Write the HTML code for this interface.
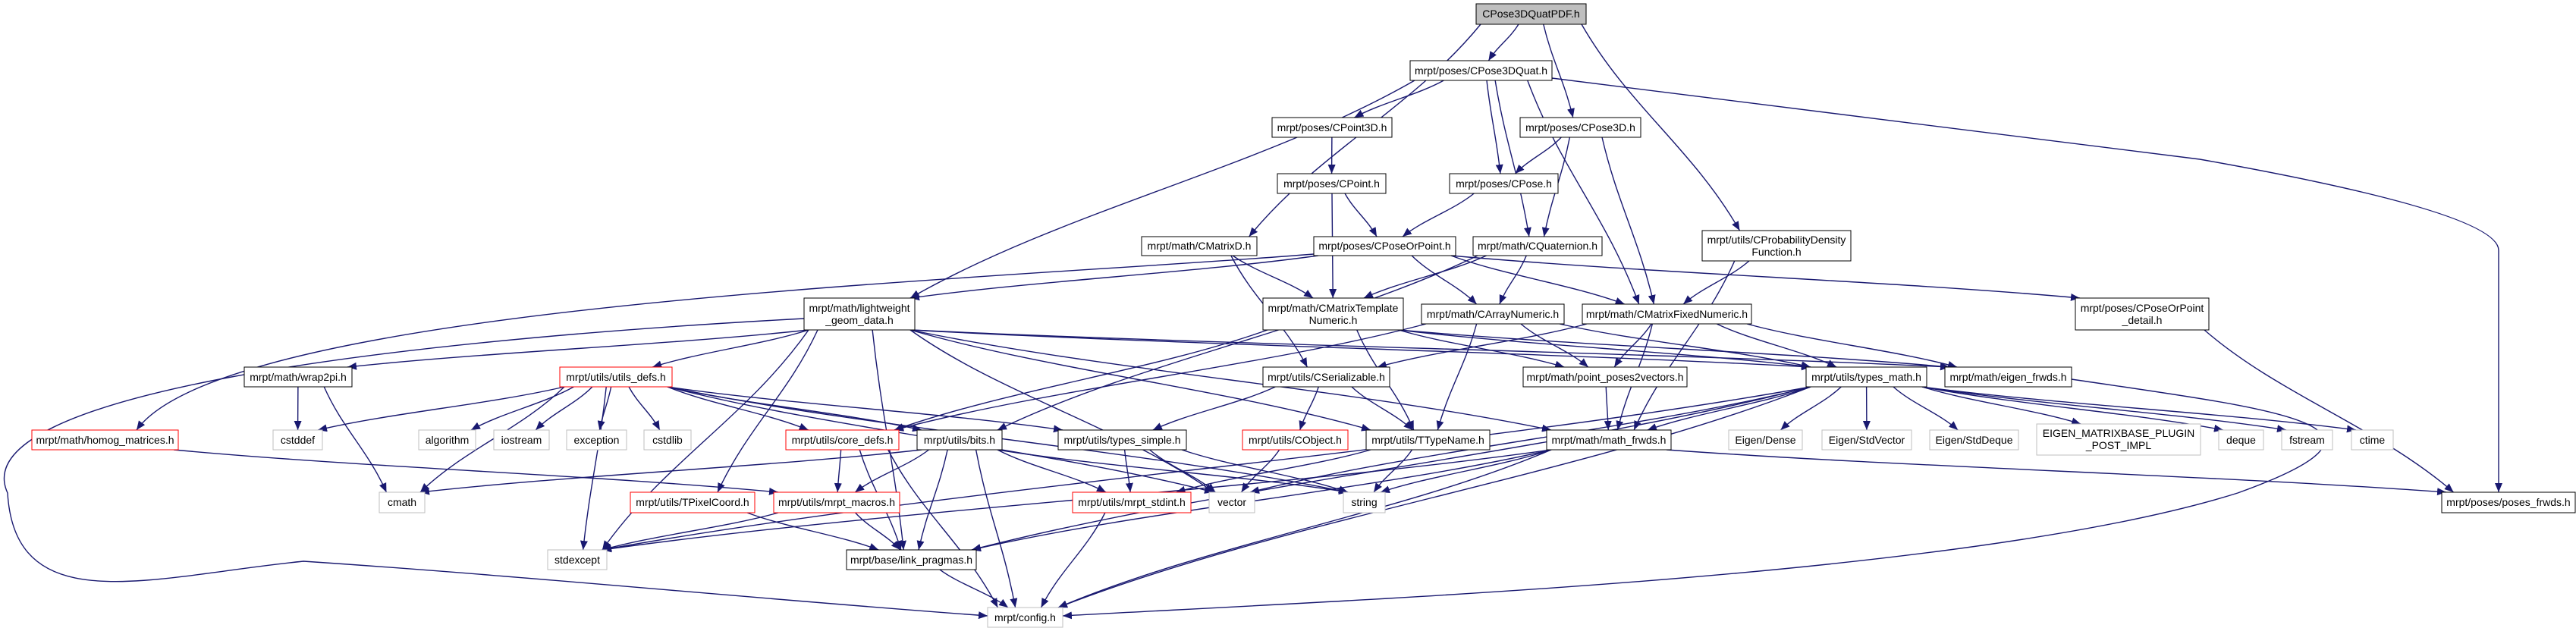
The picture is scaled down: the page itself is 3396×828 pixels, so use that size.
<!DOCTYPE html>
<html><head><meta charset="utf-8"><style>
html,body{margin:0;padding:0;background:#fff;width:3396px;height:828px;overflow:hidden}
svg{display:block}
text{font-family:"Liberation Sans",sans-serif;font-size:14px;fill:#000}
</style></head><body>
<svg id="g" width="3396" height="828" viewBox="0 0 3396 828" xmlns="http://www.w3.org/2000/svg">
<defs><marker id="a" viewBox="0 0 12 10" refX="12" refY="5" markerWidth="12" markerHeight="10" orient="auto" markerUnits="userSpaceOnUse"><path d="M0,0 L12,5 L0,10 z" fill="#191970"/></marker></defs>
<g id="edges" fill="none" stroke="#191970" stroke-width="1.4"></g>
<g id="nodes">
<rect x="1946" y="5" width="145" height="27" fill="#bfbfbf" stroke="#000"/><text x="2018.5" y="23" text-anchor="middle">CPose3DQuatPDF.h</text>
<rect x="1859" y="80" width="187" height="26" fill="#fff" stroke="#000"/><text x="1952.5" y="98" text-anchor="middle">mrpt/poses/CPose3DQuat.h</text>
<rect x="1677" y="155" width="158" height="26" fill="#fff" stroke="#000"/><text x="1756" y="173" text-anchor="middle">mrpt/poses/CPoint3D.h</text>
<rect x="2004" y="155" width="159" height="26" fill="#fff" stroke="#000"/><text x="2083.5" y="173" text-anchor="middle">mrpt/poses/CPose3D.h</text>
<rect x="1684" y="229" width="143" height="26" fill="#fff" stroke="#000"/><text x="1755.5" y="247" text-anchor="middle">mrpt/poses/CPoint.h</text>
<rect x="1911" y="229" width="143" height="26" fill="#fff" stroke="#000"/><text x="1982.5" y="247" text-anchor="middle">mrpt/poses/CPose.h</text>
<rect x="1505" y="312" width="152" height="25" fill="#fff" stroke="#000"/><text x="1581" y="329" text-anchor="middle">mrpt/math/CMatrixD.h</text>
<rect x="1732" y="312" width="187" height="25" fill="#fff" stroke="#000"/><text x="1825.5" y="329" text-anchor="middle">mrpt/poses/CPoseOrPoint.h</text>
<rect x="1942" y="312" width="170" height="25" fill="#fff" stroke="#000"/><text x="2027" y="329" text-anchor="middle">mrpt/math/CQuaternion.h</text>
<rect x="2244" y="304" width="196" height="40" fill="#fff" stroke="#000"/><text x="2342" y="321" text-anchor="middle">mrpt/utils/CProbabilityDensity</text><text x="2342" y="337" text-anchor="middle">Function.h</text>
<rect x="1060" y="393" width="146" height="42" fill="#fff" stroke="#000"/><text x="1133" y="411" text-anchor="middle">mrpt/math/lightweight</text><text x="1133" y="427" text-anchor="middle">_geom_data.h</text>
<rect x="1665" y="393" width="185" height="42" fill="#fff" stroke="#000"/><text x="1757.5" y="411" text-anchor="middle">mrpt/math/CMatrixTemplate</text><text x="1757.5" y="427" text-anchor="middle">Numeric.h</text>
<rect x="1874" y="401" width="188" height="26" fill="#fff" stroke="#000"/><text x="1968" y="419" text-anchor="middle">mrpt/math/CArrayNumeric.h</text>
<rect x="2086" y="401" width="223" height="26" fill="#fff" stroke="#000"/><text x="2197.5" y="419" text-anchor="middle">mrpt/math/CMatrixFixedNumeric.h</text>
<rect x="2736" y="393" width="176" height="42" fill="#fff" stroke="#000"/><text x="2824" y="411" text-anchor="middle">mrpt/poses/CPoseOrPoint</text><text x="2824" y="427" text-anchor="middle">_detail.h</text>
<rect x="322" y="484" width="142" height="26" fill="#fff" stroke="#000"/><text x="393" y="502" text-anchor="middle">mrpt/math/wrap2pi.h</text>
<rect x="738" y="484" width="148" height="26" fill="#fff" stroke="#f00"/><text x="812" y="502" text-anchor="middle">mrpt/utils/utils_defs.h</text>
<rect x="1665" y="484" width="167" height="26" fill="#fff" stroke="#000"/><text x="1748.5" y="502" text-anchor="middle">mrpt/utils/CSerializable.h</text>
<rect x="2008" y="484" width="216" height="26" fill="#fff" stroke="#000"/><text x="2116" y="502" text-anchor="middle">mrpt/math/point_poses2vectors.h</text>
<rect x="2381" y="484" width="159" height="26" fill="#fff" stroke="#000"/><text x="2460.5" y="502" text-anchor="middle">mrpt/utils/types_math.h</text>
<rect x="2564" y="484" width="167" height="26" fill="#fff" stroke="#000"/><text x="2647.5" y="502" text-anchor="middle">mrpt/math/eigen_frwds.h</text>
<rect x="42" y="567" width="193" height="26" fill="#fff" stroke="#f00"/><text x="138.5" y="585" text-anchor="middle">mrpt/math/homog_matrices.h</text>
<rect x="360" y="567" width="65" height="26" fill="#fff" stroke="#bfbfbf"/><text x="392.5" y="585" text-anchor="middle">cstddef</text>
<rect x="552" y="567" width="75" height="26" fill="#fff" stroke="#bfbfbf"/><text x="589.5" y="585" text-anchor="middle">algorithm</text>
<rect x="651" y="567" width="73" height="26" fill="#fff" stroke="#bfbfbf"/><text x="687.5" y="585" text-anchor="middle">iostream</text>
<rect x="747" y="567" width="79" height="26" fill="#fff" stroke="#bfbfbf"/><text x="786.5" y="585" text-anchor="middle">exception</text>
<rect x="849" y="567" width="62" height="26" fill="#fff" stroke="#bfbfbf"/><text x="880" y="585" text-anchor="middle">cstdlib</text>
<rect x="1036" y="567" width="149" height="26" fill="#fff" stroke="#f00"/><text x="1110.5" y="585" text-anchor="middle">mrpt/utils/core_defs.h</text>
<rect x="1209" y="567" width="112" height="26" fill="#fff" stroke="#000"/><text x="1265" y="585" text-anchor="middle">mrpt/utils/bits.h</text>
<rect x="1395" y="567" width="169" height="26" fill="#fff" stroke="#000"/><text x="1479.5" y="585" text-anchor="middle">mrpt/utils/types_simple.h</text>
<rect x="1638" y="567" width="139" height="26" fill="#fff" stroke="#f00"/><text x="1707.5" y="585" text-anchor="middle">mrpt/utils/CObject.h</text>
<rect x="1801" y="567" width="163" height="26" fill="#fff" stroke="#000"/><text x="1882.5" y="585" text-anchor="middle">mrpt/utils/TTypeName.h</text>
<rect x="2039" y="567" width="164" height="26" fill="#fff" stroke="#000"/><text x="2121" y="585" text-anchor="middle">mrpt/math/math_frwds.h</text>
<rect x="2279" y="567" width="97" height="26" fill="#fff" stroke="#bfbfbf"/><text x="2327.5" y="585" text-anchor="middle">Eigen/Dense</text>
<rect x="2402" y="567" width="118" height="26" fill="#fff" stroke="#bfbfbf"/><text x="2461" y="585" text-anchor="middle">Eigen/StdVector</text>
<rect x="2544" y="567" width="117" height="26" fill="#fff" stroke="#bfbfbf"/><text x="2602.5" y="585" text-anchor="middle">Eigen/StdDeque</text>
<rect x="2685" y="559" width="216" height="41" fill="#fff" stroke="#bfbfbf"/><text x="2793" y="576" text-anchor="middle">EIGEN_MATRIXBASE_PLUGIN</text><text x="2793" y="592" text-anchor="middle">_POST_IMPL</text>
<rect x="2925" y="567" width="59" height="26" fill="#fff" stroke="#bfbfbf"/><text x="2954.5" y="585" text-anchor="middle">deque</text>
<rect x="3008" y="567" width="67" height="26" fill="#fff" stroke="#bfbfbf"/><text x="3041.5" y="585" text-anchor="middle">fstream</text>
<rect x="3100" y="567" width="55" height="26" fill="#fff" stroke="#bfbfbf"/><text x="3127.5" y="585" text-anchor="middle">ctime</text>
<rect x="500" y="649" width="60" height="27" fill="#fff" stroke="#bfbfbf"/><text x="530" y="667" text-anchor="middle">cmath</text>
<rect x="831" y="649" width="164" height="27" fill="#fff" stroke="#f00"/><text x="913" y="667" text-anchor="middle">mrpt/utils/TPixelCoord.h</text>
<rect x="1020" y="649" width="166" height="27" fill="#fff" stroke="#f00"/><text x="1103" y="667" text-anchor="middle">mrpt/utils/mrpt_macros.h</text>
<rect x="1414" y="649" width="156" height="27" fill="#fff" stroke="#f00"/><text x="1492" y="667" text-anchor="middle">mrpt/utils/mrpt_stdint.h</text>
<rect x="1594" y="649" width="60" height="27" fill="#fff" stroke="#bfbfbf"/><text x="1624" y="667" text-anchor="middle">vector</text>
<rect x="1771" y="649" width="55" height="27" fill="#fff" stroke="#bfbfbf"/><text x="1798.5" y="667" text-anchor="middle">string</text>
<rect x="3219" y="649" width="176" height="27" fill="#fff" stroke="#000"/><text x="3307" y="667" text-anchor="middle">mrpt/poses/poses_frwds.h</text>
<rect x="722" y="725" width="78" height="26" fill="#fff" stroke="#bfbfbf"/><text x="761" y="743" text-anchor="middle">stdexcept</text>
<rect x="1116" y="725" width="171" height="26" fill="#fff" stroke="#000"/><text x="1201.5" y="743" text-anchor="middle">mrpt/base/link_pragmas.h</text>
<rect x="1302" y="801" width="99" height="26" fill="#fff" stroke="#bfbfbf"/><text x="1351.5" y="819" text-anchor="middle">mrpt/config.h</text>
</g>
</svg>
<script>
var N={
root:[1946,5,2091,32],q:[1859,80,2046,106],p3:[1677,155,1835,181],c3:[2004,155,2163,181],
pt:[1684,229,1827,255],ps:[1911,229,2054,255],md:[1505,312,1657,337],po:[1732,312,1919,337],
qu:[1942,312,2112,337],pdf:[2244,304,2440,344],lw:[1060,393,1206,435],mt:[1665,393,1850,435],
an:[1874,401,2062,427],mf:[2086,401,2309,427],pod:[2736,393,2912,435],w2:[322,484,464,510],
ud:[738,484,886,510],cs:[1665,484,1832,510],pp:[2008,484,2224,510],tm:[2381,484,2540,510],
ef:[2564,484,2731,510],hm:[42,567,235,593],cd:[360,567,425,593],al:[552,567,627,593],
io:[651,567,724,593],ex:[747,567,826,593],cl:[849,567,911,593],co:[1036,567,1185,593],
bi:[1209,567,1321,593],ts:[1395,567,1564,593],ob:[1638,567,1777,593],tt:[1801,567,1964,593],
mfw:[2039,567,2203,593],ed:[2279,567,2376,593],esv:[2402,567,2520,593],esd:[2544,567,2661,593],
emp:[2685,559,2901,600],dq:[2925,567,2984,593],fs:[3008,567,3075,593],ct:[3100,567,3155,593],
cm:[500,649,560,676],px:[831,649,995,676],mm:[1020,649,1186,676],si:[1414,649,1570,676],
ve:[1594,649,1654,676],st:[1771,649,1826,676],pf:[3219,649,3395,676],se:[722,725,800,751],
lp:[1116,725,1287,751],cf:[1302,801,1401,827]};
var E="root q,root c3,root pdf,root md,q lw,q p3,q qu,q ps,q mf,c3 ps,c3 qu,c3 mf,p3 pt,pt po,pt mt,ps po,md mt,md cs,po lw,po an,po mf,po pod,qu mt,qu an,qu bi,pdf mf,pdf mfw,lw w2,lw ud,lw px,lw lp,lw se,lw mfw,lw tm,lw ve,lw tt,lw ef,mt co,mt tt,mt pp,mt tm,mt ef,an co,an tt,an pp,an tm,mf cs,mf pp,mf mfw,mf tm,mf ef,cs ts,cs ob,cs tt,pp mfw,ud cd,ud cm,ud se,ud al,ud io,ud ex,ud cl,ud co,ud bi,ud ts,ud ve,ud st,w2 cd,w2 cm,hm mm,co mm,co lp,co cf,bi cm,bi mm,bi lp,bi cf,bi si,bi st,ts si,ts ve,ts st,ob ve,tt si,tt st,mfw st,mfw lp,mfw se,mfw cf,mfw pf,tm ed,tm esv,tm esd,tm emp,tm dq,tm fs,tm ct,tm mfw,tm ve,tm se,tm lp,tm cf,px lp,mm se,mm lp,si cf,lp cf,pod pf".split(",");
var g=document.getElementById("edges"),s="";
function P(d){s+='<path d="'+d+'" marker-end="url(#a)"/>';}
E.forEach(function(e){var k=e.split(" "),a=N[k[0]],b=N[k[1]];
 var acx=(a[0]+a[2])/2,bcx=(b[0]+b[2])/2;
 if(b[1]>a[3]+5){
  var sx=acx+(bcx-acx)*0.25;sx=Math.max(a[0]+6,Math.min(a[2]-6,sx));
  var tx=bcx+(acx-bcx)*0.15;tx=Math.max(b[0]+6,Math.min(b[2]-6,tx));
  var sy=a[3],ty=b[1],m=(ty-sy)*0.4;
  var dx=(tx-sx)*0.3;
  P("M"+sx+","+sy+" C"+(sx+dx)+","+(sy+m)+" "+(tx-dx)+","+(ty-m)+" "+tx+","+ty);
 } else {
  var sx2,tx2,y1=(a[1]+a[3])/2,y2=(b[1]+b[3])/2;
  if(bcx>acx){sx2=a[2];tx2=b[0];}else{sx2=a[0];tx2=b[2];}
  P("M"+sx2+","+y1+" C"+((sx2+tx2)/2)+","+y1+" "+((sx2+tx2)/2)+","+y2+" "+tx2+","+y2);
 }
});
P("M2046,103 L2900,210 Q3294,280 3294,330 L3294,649");
P("M1732,335 C1300,370 300,400 180,567");
P("M1060,420 C500,450 -50,520 10,650 C20,820 200,760 400,740 C700,760 1000,790 1302,812");
P("M2731,500 C3000,540 3200,560 2950,650 C2600,760 1800,790 1401,812");
g.innerHTML=s;
</script>
</body></html>
